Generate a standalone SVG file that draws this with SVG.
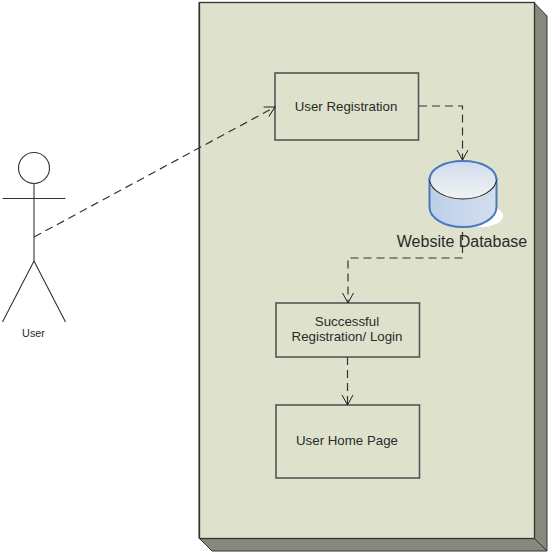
<svg xmlns="http://www.w3.org/2000/svg" width="550" height="554" viewBox="0 0 550 554">
<defs>
<linearGradient id="top" x1="0" y1="0" x2="0" y2="1"><stop offset="0" stop-color="#cfdcee"/><stop offset="1" stop-color="#f2f3f0"/></linearGradient>
<linearGradient id="body" x1="0" y1="0" x2="1" y2="0"><stop offset="0" stop-color="#bccfe8"/><stop offset="1" stop-color="#d3deee"/></linearGradient>
<marker id="arr" markerUnits="userSpaceOnUse" markerWidth="14" markerHeight="14" refX="11" refY="6" orient="auto"><path d="M1 0.5L11 6L1 11.5" fill="none" stroke="#222" stroke-width="1"/></marker>
</defs>
<style>
.t{font-family:"Liberation Sans",Arial,sans-serif;font-size:13.300px;fill:#2a2a2a;text-anchor:middle}
.box{fill:#dee2cc;stroke:#555;stroke-width:1.6}
.c{fill:none;stroke:#333;stroke-width:1.2;stroke-dasharray:8 5}
.fig{fill:none;stroke:#333;stroke-width:1.100}
</style>
<rect width="550" height="554" fill="#fff"/>
<g id="package">
<path d="M199 2.500L534 2.500L547 16V551H212L199 538Z" fill="#858a7c" stroke="#333" stroke-width="1"/>
<rect x="199.500" y="2.500" width="335" height="536" fill="#dee2cc" stroke="#333" stroke-width="1.300"/>
<path d="M534.500 538.500L547 551" stroke="#333" fill="none"/>
</g>
<g id="user">
<circle cx="34" cy="168" r="15.500" class="fig"/>
<path class="fig" d="M34 183.500V261M2.500 198.500H65.500M34 261L2.500 322M34 261L65.500 322"/>
<text class="t" x="33.500" y="337" style="font-size:10.800px">User</text>
</g>
<g id="user-registration">
<rect class="box" x="275" y="73" width="143.500" height="67"/>
<text class="t" x="346" y="110.500">User Registration</text>
</g>
<g id="website-database">
<ellipse cx="481" cy="216" rx="22" ry="11" fill="#fff"/>
<path d="M429.500 179V207C429.500 218 444 227 463 227S496.500 218 496.500 207V179Z" fill="url(#body)" stroke="#4a78c0" stroke-width="2"/>
<ellipse cx="463" cy="180" rx="33.500" ry="19" fill="url(#top)"/>
<path d="M429.500 180C431 191 446 199 463 199S495 191 496.500 180" fill="none" stroke="#222" stroke-width="1.100"/>
<path d="M429.500 180C429.500 169 444 161 463 161S496.500 169 496.500 180" fill="none" stroke="#4a78c0" stroke-width="2"/>
<text class="t" x="462" y="247" style="font-size:16px">Website Database</text>
</g>
<g id="successful-registration">
<rect class="box" x="276" y="303" width="143.500" height="54"/>
<text class="t" x="347" y="325.500">Successful</text>
<text class="t" x="347" y="341">Registration/ Login</text>
</g>
<g id="user-home-page">
<rect class="box" x="276" y="405" width="143.500" height="73"/>
<text class="t" x="347" y="445">User Home Page</text>
</g>
<g id="connectors">
<path class="c" marker-end="url(#arr)" d="M34 237L275 107"/>
<path class="c" marker-end="url(#arr)" d="M419 106H462.500V160"/>
<path class="c" marker-end="url(#arr)" d="M462.500 232V258H348V303"/>
<path class="c" marker-end="url(#arr)" d="M347.500 357V405"/>
</g>
</svg>
